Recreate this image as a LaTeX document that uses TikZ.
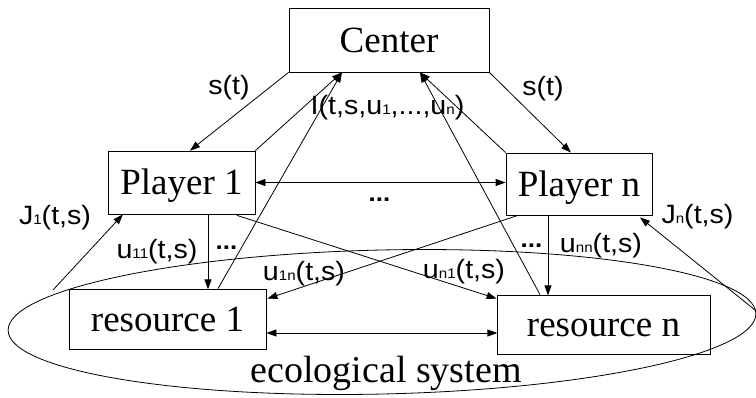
\documentclass[tikz,border=0pt]{standalone}
\usepackage{fontspec}
\setmainfont{Liberation Serif}
\newfontfamily\lab[FakeStretch=1.08]{Liberation Sans}
\usetikzlibrary{arrows.meta,calc}
\newcommand\lsub[1]{{\fontsize{14}{14}\selectfont #1}}
\begin{document}
\begin{tikzpicture}[x=1pt,y=-1pt, line width=0.8pt,
  >={Triangle[length=10pt,width=7pt]},
  box/.style={draw, inner sep=0pt, font=\fontsize{37}{40}\selectfont, text height=24pt, text depth=0pt},
  lbl/.style={anchor=base, inner sep=0pt, font=\lab\fontsize{26.5}{28}\selectfont},
  dots/.style={anchor=base, inner sep=0pt, font=\lab\bfseries\fontsize{24}{26}\selectfont},
  conn/.style={->}]
\useasboundingbox (0,0) rectangle (756,397);
% ecological system outline
\draw[rotate around={1.3:(382,322)}] (382,322) ellipse [x radius=374pt, y radius=72pt];
\node[anchor=base, inner sep=0pt, font=\fontsize{38}{40}\selectfont] (eco) at (386,382) {ecological system};
% boxes
\node[box, minimum width=200pt, minimum height=64pt] (C) at (389,40) {Center};
\node[box, minimum width=147pt, minimum height=63pt] (P1) at (181.5,182.5) {Player 1};
\node[box, minimum width=146pt, minimum height=62pt] (Pn) at (579,184) {Player n};
\node[box, minimum width=197pt, minimum height=60pt] (R1) at (167.5,319) {resource 1};
\node[box, minimum width=213pt, minimum height=59pt] (Rn) at (603.5,324.5) {resource n};
\coordinate (j1) at (53,290);
\coordinate (jn) at (755,310);
% center <-> players
\draw[conn] (C.south west) -- ($(P1.north)+(8.5,0)$);
\draw[conn] (C.south east) -- ($(Pn.north)+(-8,0)$);
\draw[conn] (P1.north east) -- ($(C.south)+(-47,0)$);
\draw[conn] ($(R1.north)+(50.5,0)$) -- ($(C.south)+(-47,0)$);
\draw[conn] (Pn.north west) -- ($(C.south)+(31,0)$);
\draw[conn] ($(Rn.north)+(-63.5,0)$) -- ($(C.south)+(31,0)$);
% player <-> player
\draw[<->] (P1.east) -- (P1.east -| Pn.west);
% players -> resources
\draw[conn] ($(P1.south)+(26.5,0)$) -- ($(P1.south)+(26.5,75)$) coordinate (r1t);
\draw[conn] ($(P1.south)+(55.5,1)$) -- ($(Rn.north west)+(0,4)$);
\draw[conn] ($(Pn.south)+(-61,0)$) -- ($(R1.north east)+(1,10)$);
\draw[conn] ($(Pn.south)+(-31,0)$) -- ($(Pn.south)+(-31,80)$);
% resource <-> resource
\draw[<->] ($(R1.east)+(0,14)$) -- ($(R1.east)+(231,14)$);
% feedback
\draw[conn] (j1) -- ($(P1.south)+(-58.5,0)$);
\draw[conn] (jn) -- ($(Pn.south)+(61,2)$);
% labels
\node[lbl] (s1) at (229,94) {s(t)};
\node[lbl] (s2) at (543,95) {s(t)};
\node[lbl] (inc) at (387.5,114) {I(t,s,u\lsub{1},...,u\lsub{n})};
\node[dots] (d0) at (379.5,201.5) {...};
\node[lbl] (J1) at (55,224) {J\lsub{1}(t,s)};
\node[lbl] (Jn) at (697.5,223) {J\lsub{n}(t,s)};
\node[lbl] (u11) at (157,258) {u\lsub{11}(t,s)};
\node[dots] (d1) at (226.5,249) {...};
\node[lbl] (u1n) at (304,280) {u\lsub{1n}(t,s)};
\node[lbl] (un1) at (464,278) {u\lsub{n1}(t,s)};
\node[dots] (d2) at (531.5,247) {...};
\node[lbl] (unn) at (601,252) {u\lsub{nn}(t,s)};
\end{tikzpicture}
\end{document}
